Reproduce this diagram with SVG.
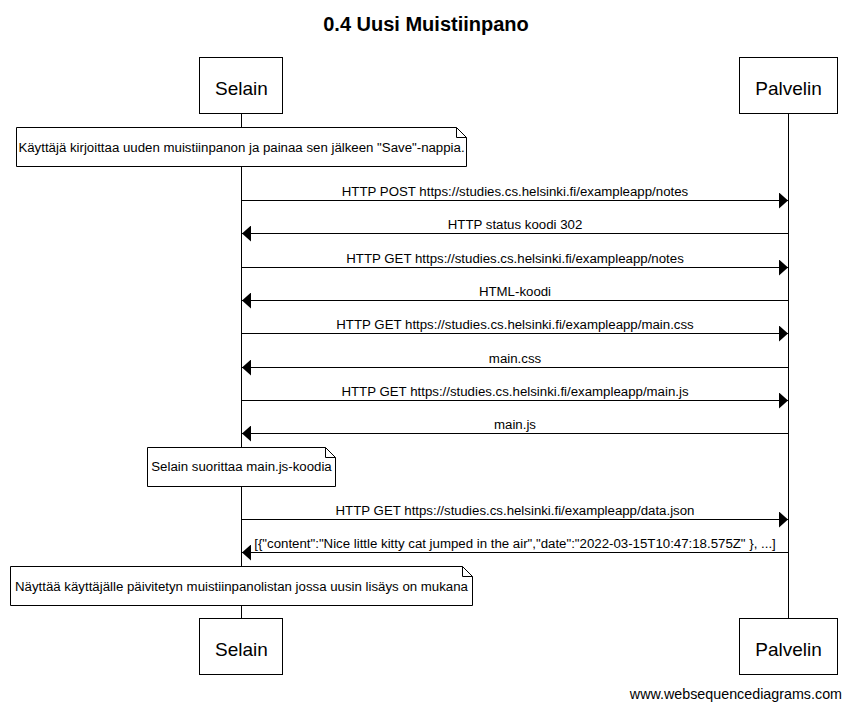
<svg xmlns="http://www.w3.org/2000/svg" width="851" height="709" viewBox="0 0 851 709">
<style>
text{font-family:"Liberation Sans",Arial,sans-serif;fill:#000}
.title{font-size:20px;font-weight:bold;text-anchor:middle}
.part{font-size:19px;text-anchor:middle}
.lbl{font-size:13.25px;text-anchor:middle}
.box{fill:#fff;stroke:#000;stroke-width:1}
.life{stroke:#000;stroke-width:1;fill:none}
.msg{stroke:#000;stroke-width:1;fill:none}
.note{fill:#fff;stroke:#000;stroke-width:1}
.fold{fill:none;stroke:#000;stroke-width:1}
.foot{font-size:14.3px;text-anchor:end}
</style>
<defs>
<marker id="ah" markerUnits="userSpaceOnUse" markerWidth="10" markerHeight="16" refX="9" refY="8" orient="auto">
<path d="M0,0 L9,8 L0,16 Z" fill="#000"/>
</marker>
</defs>
<rect width="851" height="709" fill="#fff"/>
<text class="title" x="426" y="31">0.4 Uusi Muistiinpano</text>

<g id="lifelines">
<line class="life" x1="241.5" y1="114" x2="241.5" y2="618"/>
<line class="life" x1="788.5" y1="114" x2="788.5" y2="618"/>
</g>

<g id="selain">
<rect class="box" x="199.5" y="57.5" width="83" height="56"/>
<text class="part" x="241.5" y="95">Selain</text>
</g>
<g id="palvelin">
<rect class="box" x="739.5" y="57.5" width="98" height="56"/>
<text class="part" x="788.5" y="95">Palvelin</text>
</g>

<g id="note1">
<path class="note" d="M16.5,127.5 H456.5 L466.5,137.5 V166.5 H16.5 Z"/>
<path class="fold" d="M456.5,127.5 V137.5 H466.5"/>
<text class="lbl" x="241.5" y="152">Käyttäjä kirjoittaa uuden muistiinpanon ja painaa sen jälkeen "Save"-nappia.</text>
</g>

<g id="connectors">
<line class="msg" x1="241.5" y1="200.5" x2="788" y2="200.5" marker-end="url(#ah)"/>
<line class="msg" x1="788.5" y1="233.5" x2="242" y2="233.5" marker-end="url(#ah)"/>
<line class="msg" x1="241.5" y1="267.5" x2="788" y2="267.5" marker-end="url(#ah)"/>
<line class="msg" x1="788.5" y1="300.5" x2="242" y2="300.5" marker-end="url(#ah)"/>
<line class="msg" x1="241.5" y1="333.5" x2="788" y2="333.5" marker-end="url(#ah)"/>
<line class="msg" x1="788.5" y1="367.5" x2="242" y2="367.5" marker-end="url(#ah)"/>
<line class="msg" x1="241.5" y1="400.5" x2="788" y2="400.5" marker-end="url(#ah)"/>
<line class="msg" x1="788.5" y1="433.5" x2="242" y2="433.5" marker-end="url(#ah)"/>
<line class="msg" x1="241.5" y1="519.5" x2="788" y2="519.5" marker-end="url(#ah)"/>
<line class="msg" x1="788.5" y1="552.5" x2="242" y2="552.5" marker-end="url(#ah)"/>
</g>

<g id="labels">
<text class="lbl" x="515" y="196">HTTP POST https://studies.cs.helsinki.fi/exampleapp/notes</text>
<text class="lbl" x="515" y="229">HTTP status koodi 302</text>
<text class="lbl" x="515" y="263">HTTP GET https://studies.cs.helsinki.fi/exampleapp/notes</text>
<text class="lbl" x="515" y="296">HTML-koodi</text>
<text class="lbl" x="515" y="329">HTTP GET https://studies.cs.helsinki.fi/exampleapp/main.css</text>
<text class="lbl" x="515" y="363">main.css</text>
<text class="lbl" x="515" y="396">HTTP GET https://studies.cs.helsinki.fi/exampleapp/main.js</text>
<text class="lbl" x="515" y="429">main.js</text>
<text class="lbl" x="515" y="515">HTTP GET https://studies.cs.helsinki.fi/exampleapp/data.json</text>
<text class="lbl" x="515" y="548">[{"content":"Nice little kitty cat jumped in the air","date":"2022-03-15T10:47:18.575Z" }, ...]</text>
</g>

<g id="note2">
<path class="note" d="M147.5,447.5 H325.5 L335.5,457.5 V486.5 H147.5 Z"/>
<path class="fold" d="M325.5,447.5 V457.5 H335.5"/>
<text class="lbl" x="241.5" y="471">Selain suorittaa main.js-koodia</text>
</g>

<g id="note3">
<path class="note" d="M10.5,566.5 H462.5 L472.5,576.5 V605.5 H10.5 Z"/>
<path class="fold" d="M462.5,566.5 V576.5 H472.5"/>
<text class="lbl" x="241.5" y="590.5">Näyttää käyttäjälle päivitetyn muistiinpanolistan jossa uusin lisäys on mukana</text>
</g>

<g id="selain-bottom">
<rect class="box" x="199.5" y="618.5" width="83" height="56"/>
<text class="part" x="241.5" y="656">Selain</text>
</g>
<g id="palvelin-bottom">
<rect class="box" x="739.5" y="618.5" width="98" height="56"/>
<text class="part" x="788.5" y="656">Palvelin</text>
</g>

<text class="foot" x="842" y="699">www.websequencediagrams.com</text>
</svg>
